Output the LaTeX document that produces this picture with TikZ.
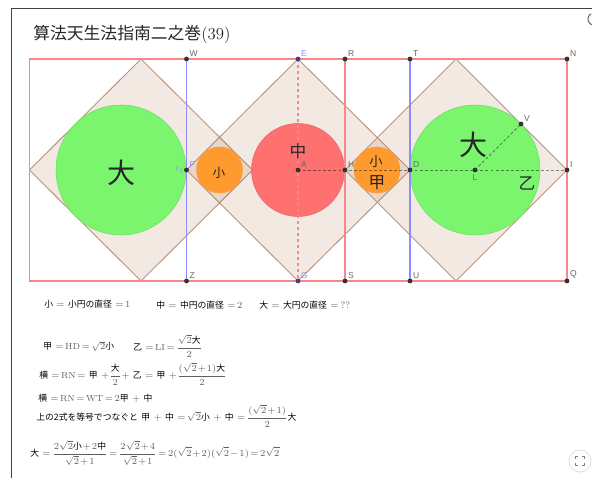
\documentclass[tikz,border=0pt]{standalone}
\usepackage{fontspec}
\setsansfont{Liberation Sans}
\newfontfamily\cjkfont{Noto Sans CJK JP}
\definecolor{squareline}{RGB}{185,148,125}
\definecolor{squarefill}{RGB}{153,85,40}
\definecolor{rectred}{RGB}{248,135,140}
\definecolor{lineblue}{RGB}{140,140,255}
\definecolor{greencirc}{RGB}{124,245,110}
\definecolor{redcirc}{RGB}{255,112,112}
\definecolor{orangecirc}{RGB}{255,154,46}
\definecolor{mathgrey}{RGB}{95,95,95}
\newcommand{\kj}[1]{\mbox{\cjkfont\color{black}#1}}
\newcommand{\pxfont}[1]{\fontsize{#1}{#1}\selectfont}
\thickmuskip=2.5mu
\medmuskip=1.5mu
\tikzset{
  square/.style={draw=squareline,line width=.7pt,fill=squarefill,fill opacity=.13},
  rectline/.style={draw=rectred,line width=.85pt},
  blueline/.style={draw=lineblue,line width=1.2pt},
  circgreen/.style={draw=greencirc!90!black,line width=.4pt,fill=greencirc},
  circred/.style={draw=redcirc!90!black,line width=.4pt,fill=redcirc},
  circorange/.style={draw=orangecirc,line width=.4pt,fill=orangecirc},
  guide/.style={draw=black,opacity=.45,dash pattern=on 2.2pt off 1.6pt,line width=.6pt},
  ptdot/.style={circle,fill=black!80,inner sep=0pt,minimum size=3.6pt},
  ptblue/.style={ptdot,fill=blue!40!black!75},
  ptlabel/.style={font=\sffamily\pxfont{6.4},text=black!60,inner sep=.6pt},
  bluelabel/.style={ptlabel,text=lineblue},
  kanji/.style={font=\cjkfont\pxfont{#1},inner sep=0pt,text=black!85},
  eqn/.style={anchor=west,inner sep=0pt,text=mathgrey,font=\pxfont{#1}},
  eqn/.default=6.6
}
\begin{document}
\begin{tikzpicture}[x=.75pt,y=-.75pt]
  \useasboundingbox (0,0) rectangle (592,478);
  \clip (0,0) rectangle (592,478);
  % window edge
  \coordinate (fa) at (11,478);
  \coordinate (fb) at (11,8);
  \coordinate (fc) at (592,8);
  \draw[black!75,line width=.7pt] (fa) -- (fb) -- (fc);
  \node[kanji=12.6,anchor=west] (title) at (33,35) {算法天生法指南二之巻\fontspec{Latin Modern Roman}(39)};
  % corners and tips
  \coordinate (RA) at (29.5,59);
  \coordinate (RB) at (29.5,281);
  \coordinate (LV) at (29.5,170);
  \coordinate (LT) at (141,59);
  \coordinate (LB) at (141,281);
  \coordinate (LR) at (252.5,170);
  \coordinate (RT) at (456,59);
  \coordinate (RB2) at (456,281);
  \foreach \n/\x/\y in {W/186.5/59,R/345/59,T/410/59,N/567/59,Z/186.5/281,S/345/281,U/410/281,Q/567/281,H/345/170,D/410/170,I/567/170,A/298/170,L/475/170,V/521/124,F/186.5/170,E/298/59,G/298/281}
    \coordinate (\n) at (\x,\y);
  % squares
  \draw[square] (LT) -- (LR) -- (LB) -- (LV) -- cycle;
  \draw[square] (E) -- (D) -- (G) -- (F) -- cycle;
  \draw[square] (RT) -- (I) -- (RB2) -- (H) -- cycle;
  % circles
  \draw[circgreen] (121,170) circle[radius=65];
  \draw[circgreen] (L) circle[radius=65];
  \draw[circred] (A) circle[radius=46.5];
  \draw[circorange] (219.5,170) circle[radius=23];
  \draw[circorange] (377,170) circle[radius=23];
  % lines
  \draw[rectline] (RA) -- (N) -- (Q) -- (RB) -- cycle;
  \draw[rectline] (R) -- (S);
  \draw[blueline] (W) -- (Z);
  \draw[blueline] (T) -- (U);
  \draw[rectline,dash pattern=on 2.5pt off 2pt] (E) -- (G);
  \draw[guide] (A) -- (I);
  \draw[guide] (L) -- (V);
  % points
  \foreach \n in {W,R,T,N,Z,S,U,Q,H,D,I,A,L,V,F}
    \node[ptdot] (p\n) at (\n) {};
  \foreach \n in {E,G}
    \node[ptblue] (p\n) at (\n) {};
  \foreach \n in {W,R,T,N,Z,S,U,Q,H,D,I,A,V}
    \node[ptlabel,anchor=south west] (lbl\n) at ([shift={(1.5pt,1pt)}]\n) {\n};
  \node[ptlabel,anchor=north] (lblL) at ([yshift=-3pt]L) {L};
  \foreach \n in {E,F,G}
    \node[bluelabel,anchor=south west] (lbl\n) at ([shift={(1.5pt,1pt)}]\n) {\n};
  \node[bluelabel,anchor=east] (lblr) at ([xshift=-1pt]F) {r$_1$};
  % kanji on the figure
  \node[kanji=21] (ta1) at (121,173) {大};
  \node[kanji=9.5] (sho1) at (219,173) {小};
  \node[kanji=12.5] (chu) at (298,151) {中};
  \node[kanji=10] (sho2) at (376,162) {小};
  \node[kanji=12.5] (ko) at (377,183) {甲};
  \node[kanji=21] (ta2) at (473,145) {大};
  \node[kanji=12.5] (otsu) at (527,183) {乙};
  % equations
  \node[eqn] (e1) at (44,304) {\kj{小} $=$ \kj{小円の直径} $=1$};
  \node[eqn] (e2) at (156,305) {\kj{中} $=$ \kj{中円の直径} $=2$};
  \node[eqn] (e3) at (259,305) {\kj{大} $=$ \kj{大円の直径} $=\,??$};
  \node[eqn] (e4) at (43,346) {\kj{甲} $=\mathrm{HD}=\sqrt{2}$\kj{小}};
  \node[eqn] (e5) at (133,346) {\kj{乙} $=\mathrm{LI}=\displaystyle\frac{\sqrt{2}\kj{大}}{2}$};
  \node[eqn] (e6) at (39,374) {\kj{横} $=\mathrm{RN}=$ \kj{甲} $+\displaystyle\frac{\kj{大}}{2}+$ \kj{乙} $=$ \kj{甲} $+\displaystyle\frac{(\sqrt{2}+1)\kj{大}}{2}$};
  \node[eqn] (e7) at (38,398) {\kj{横} $=\mathrm{RN}=\mathrm{WT}=2$\kj{甲} $+$ \kj{中}};
  \node[eqn] (e8) at (36,416) {\kj{上の2式を等号でつなぐと} \kj{甲} $+$ \kj{中} $=\sqrt{2}$\kj{小} $+$ \kj{中} $=\displaystyle\frac{(\sqrt{2}+1)}{2}$\kj{大}};
  \node[eqn] (e9) at (30,453) {\kj{大} $=\displaystyle\frac{2\sqrt{2}\kj{小}+2\kj{中}}{\sqrt{2}+1}=\frac{2\sqrt{2}+4}{\sqrt{2}+1}=2(\sqrt{2}+2)(\sqrt{2}-1)=2\sqrt{2}$};
  % screen buttons
  \coordinate (btn) at (580,461);
  \fill[black!12] (btn) circle[radius=11.5];
  \fill[white] (btn) circle[radius=10.5];
  \draw[black!50,line width=.8pt] (575.5,459) -- (575.5,456.5) -- (578,456.5);
  \draw[black!50,line width=.8pt] (582,456.5) -- (584.5,456.5) -- (584.5,459);
  \draw[black!50,line width=.8pt] (575.5,463) -- (575.5,465.5) -- (578,465.5);
  \draw[black!50,line width=.8pt] (582,465.5) -- (584.5,465.5) -- (584.5,463);
  \coordinate (rld) at (594,19);
  \draw[black!60,line width=.8pt] (rld) ++(100:6) arc[start angle=100,end angle=240,radius=6];
\end{tikzpicture}
\end{document}
